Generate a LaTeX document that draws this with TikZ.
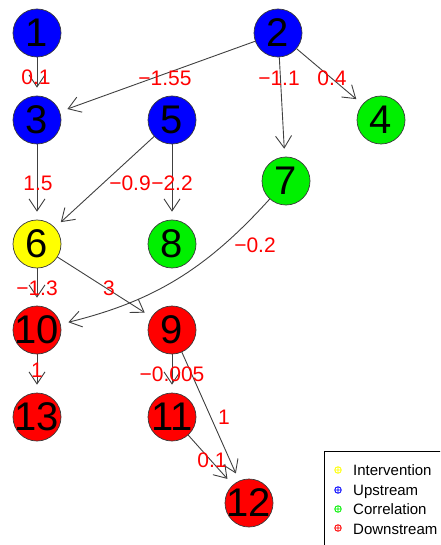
\documentclass[tikz,border=0pt]{standalone}
\usepackage{fontspec}
\setmainfont{Liberation Sans}
\usetikzlibrary{arrows.meta}
\definecolor{Up}{HTML}{0000FF}
\definecolor{Corr}{HTML}{00F000}
\definecolor{Interv}{HTML}{FFFF00}
\definecolor{Down}{HTML}{FF0000}
\definecolor{Rim}{HTML}{3A3A3A}
\definecolor{Wire}{HTML}{404040}

\begin{document}
\begin{tikzpicture}[x=1pt, y=-1pt, >={Straight Barb[length=12pt,width=16pt]},
  vtx/.style={circle, draw=Rim, line width=0.7pt, minimum size=48pt, inner sep=-4pt,
    font=\fontsize{40}{40}\selectfont},
  elab/.style={text=Down, inner sep=0pt, font=\fontsize{21}{21}\selectfont},
  edge/.style={->, draw=Wire, line width=0.9pt, shorten >=8pt},
  keytext/.style={anchor=base west, inner sep=0pt, font=\fontsize{15}{15}\selectfont}]
  \useasboundingbox (0,0) rectangle (440,545);
  \clip (0,0) rectangle (440,545);

  % vertices
  \node[vtx, fill=Up] (n1) at (37,33) {1};
  \node[vtx, fill=Up] (n2) at (278,33) {2};
  \node[vtx, fill=Up] (n3) at (37,120) {3};
  \node[vtx, fill=Up] (n5) at (172,120) {5};
  \node[vtx, fill=Corr] (n4) at (381,120) {4};
  \node[vtx, fill=Corr] (n7) at (286,181) {7};
  \node[vtx, fill=Interv] (n6) at (37,244) {6};
  \node[vtx, fill=Corr] (n8) at (172,244) {8};
  \node[vtx, fill=Down] (n10) at (37,330) {10};
  \node[vtx, fill=Down] (n9) at (172,330) {9};
  \node[vtx, fill=Down] (n13) at (37,417) {13};
  \node[vtx, fill=Down] (n11) at (172,417) {11};
  \node[vtx, fill=Down] (n12) at (249,503) {12};

  % edges
  \draw[edge] (n1) -- (n3);
  \draw[edge] (n2) -- (n3);
  \draw[edge] (n2) -- (n7);
  \draw[edge] (n2) -- (n4);
  \draw[edge] (n3) -- (n6);
  \draw[edge] (n5) -- (n6);
  \draw[edge] (n5) -- (n8);
  \draw[edge] (n6) -- (n10);
  \draw[edge] (n6) -- (n9);
  \draw[edge] (n7) to[bend left=17] (n10);
  \draw[edge] (n10) -- (n13);
  \draw[edge] (n9) -- (n11);
  \draw[edge] (n9) -- (n12);
  \draw[edge] (n11) -- (n12);

  % weights
  \node[elab] (w13) at (36,77) {0.1};
  \node[elab] (w23) at (165,78) {−1.55};
  \node[elab] (w27) at (279,78) {−1.1};
  \node[elab] (w24) at (332,78) {0.4};
  \node[elab] (w36) at (38,183) {1.5};
  \node[elab] (w56) at (130,183) {−0.9};
  \node[elab] (w58) at (172,183) {−2.2};
  \node[elab] (w610) at (37,288) {−1.3};
  \node[elab] (w69) at (109,288) {3};
  \node[elab] (w710) at (255,245) {−0.2};
  \node[elab] (w1013) at (37,370) {1};
  \node[elab] (w911) at (172,374) {−0.005};
  \node[elab] (w912) at (224,417) {1};
  \node[elab] (w1112) at (212,460) {0.1};

  % legend
  \draw[line width=0.8pt] (324,451) rectangle (470,570);
  \draw[Interv, line width=0.8pt] (338,470) circle[radius=3.3pt] (334.7,470) -- (341.3,470) (338,466.7) -- (338,473.3);
  \draw[Up, line width=0.8pt] (338,490) circle[radius=3.3pt] (334.7,490) -- (341.3,490) (338,486.7) -- (338,493.3);
  \draw[Corr, line width=0.8pt] (338,509) circle[radius=3.3pt] (334.7,509) -- (341.3,509) (338,505.7) -- (338,512.3);
  \draw[Down, line width=0.8pt] (338,528) circle[radius=3.3pt] (334.7,528) -- (341.3,528) (338,524.7) -- (338,531.3);
  \node[keytext] (k1) at (353,475.5) {Intervention};
  \node[keytext] (k2) at (353,495) {Upstream};
  \node[keytext] (k3) at (353,514.5) {Correlation};
  \node[keytext] (k4) at (353,534) {Downstream};
\end{tikzpicture}
\end{document}
